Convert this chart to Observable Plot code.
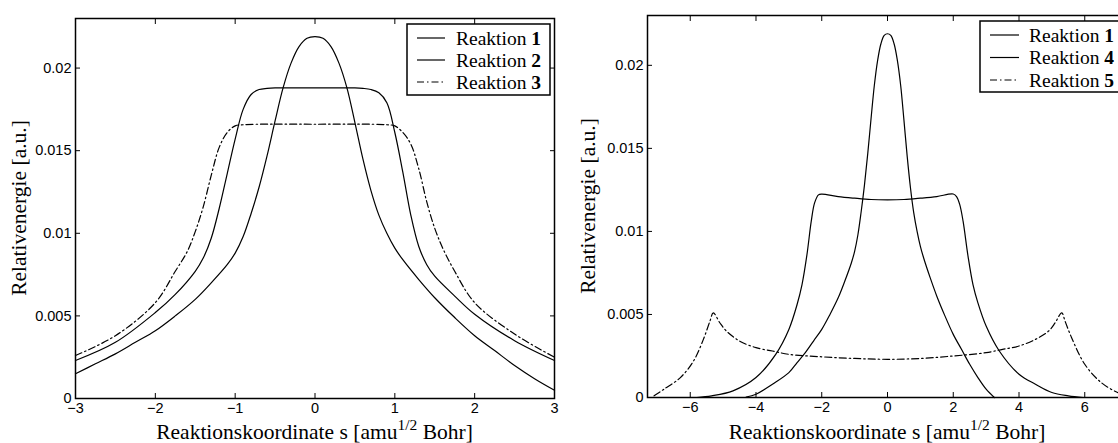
<!DOCTYPE html>
<html><head><meta charset="utf-8">
<script src="https://cdn.jsdelivr.net/npm/d3@7"></script>
<script src="https://cdn.jsdelivr.net/npm/@observablehq/plot@0.6"></script>
<style>
html,body{margin:0;padding:0;background:#fff;overflow:hidden;width:1118px;height:443px}
#wrap{position:relative;width:1118px;height:443px;overflow:hidden;background:#fff}
.panel{position:absolute;top:0}
</style></head><body><div id="wrap"></div>
<script>
// ---------- data ----------
const yTicks = [0, 0.005, 0.01, 0.015, 0.02];
const yTickLabels = ["0", "0.005", "0.01", "0.015", "0.02"];
const leftXTicks = [-3, -2, -1, 0, 1, 2, 3];
const rightXTicks = [-6, -4, -2, 0, 2, 4, 6];
const xTitle = ["Reaktionskoordinate s [amu", "1/2", " Bohr]"];
const yTitle = "Relativenergie [a.u.]";

// Reaktion 1 (left panel, s = -3..3)
const r1X = [-3,-2.75,-2.5,-2.25,-2,-1.75,-1.5,-1.3,-1.1,-1,-0.9,-0.8,-0.7,-0.6,-0.5,-0.4,-0.3,-0.2,-0.1,0,0.1,0.2,0.3,0.4,0.5,0.6,0.7,0.8,0.9,1,1.1,1.3,1.5,1.75,2,2.25,2.5,2.75,3];
const r1Y = [0.0015,0.0021,0.0027,0.0034,0.0041,0.0050,0.0060,0.0070,0.0081,0.0088,0.0098,0.0112,0.0128,0.0147,0.0168,0.0188,0.0203,0.0213,0.0218,0.0219,0.0218,0.0213,0.0203,0.0188,0.0167,0.0145,0.0126,0.0111,0.0100,0.0091,0.0084,0.0072,0.0061,0.0049,0.0038,0.0029,0.0020,0.0012,0.0005];
// Reaktion 1 tails (right panel extends the range)
const r1LeftTailX = [-4.3,-4,-3.5];
const r1LeftTailY = [0.00003,0.0002,0.0008];
const r1RightTailX = [3.25];
const r1RightTailY = [0.0];

// Reaktion 2
const r2X = [-3,-2.5,-2,-1.75,-1.5,-1.4,-1.3,-1.2,-1.1,-1.0,-0.9,-0.8,-0.7,-0.6,-0.5,0,0.5,0.6,0.7,0.8,0.9,1.0,1.1,1.2,1.3,1.4,1.5,1.75,2,2.5,3];
const r2Y = [0.0023,0.0034,0.0052,0.0063,0.0077,0.0085,0.0097,0.0115,0.0136,0.0157,0.0175,0.0184,0.0187,0.01877,0.0188,0.0188,0.0188,0.01877,0.0187,0.0185,0.0179,0.0161,0.0137,0.0111,0.0092,0.0081,0.0074,0.0062,0.0051,0.0035,0.0023];

// Reaktion 3
const r3X = [-3,-2.5,-2,-1.75,-1.6,-1.5,-1.4,-1.3,-1.2,-1.1,-1.0,-0.9,0,0.9,1.0,1.1,1.2,1.3,1.4,1.5,1.6,1.75,2,2.5,3];
const r3Y = [0.0026,0.0038,0.0058,0.0077,0.0089,0.0101,0.0116,0.0135,0.0152,0.0161,0.0165,0.01657,0.0166,0.01657,0.0165,0.0161,0.0154,0.0139,0.0119,0.0103,0.0091,0.0077,0.0058,0.0039,0.0025];

// Reaktion 4
const r4X = [-5.8,-5.35,-4.7,-4,-3.4,-3,-2.75,-2.6,-2.45,-2.32,-2.22,-2.1,-2,-1.5,-1,-0.5,0,0.5,1,1.5,2,2.1,2.2,2.3,2.45,2.6,2.75,3,3.4,4,4.5,5,5.5,5.95];
const r4Y = [0,0.0001,0.0004,0.0012,0.0026,0.0041,0.0056,0.0068,0.0086,0.0106,0.0117,0.0122,0.01225,0.0121,0.0120,0.01192,0.0119,0.01192,0.0120,0.0121,0.01225,0.0121,0.0116,0.0106,0.0085,0.0068,0.0057,0.0043,0.0028,0.0014,0.0008,0.0003,0.0001,0];

// Reaktion 5
const r5X = [-7.1,-6.8,-6.3,-5.9,-5.6,-5.4,-5.3,-5.1,-4.9,-4.5,-4,-3.5,-3,-2,-1,0,1,2,3,3.5,4,4.5,4.9,5.1,5.3,5.4,5.6,6,6.5,7,7.3];
const r5Y = [0.0001,0.0005,0.0012,0.0022,0.0035,0.0046,0.0051,0.0045,0.0040,0.0034,0.0030,0.0028,0.0026,0.00245,0.00235,0.0023,0.00235,0.0025,0.0027,0.0029,0.0031,0.0035,0.0040,0.0045,0.0051,0.0046,0.0036,0.0020,0.0009,0.0003,0.0001];

const leftNames = ["1", "2", "3"];
const rightNames = ["1", "4", "5"];
// ----------------------------------------------------

const zip = (xs, ys) => xs.map((x, i) => ({x, y: ys[i]}));
const r1Full = zip([...r1LeftTailX, ...r1X, ...r1RightTailX], [...r1LeftTailY, ...r1Y, ...r1RightTailY]);

const SANS = "'Liberation Sans', Arial, Helvetica, sans-serif";
const SERIF = "'Liberation Serif', 'Times New Roman', serif";
const DASHDOT = "7,3,1.5,3";
const TITLE_SIZE = 21.5;
const LEGEND_SIZE = 19.5;
const TICK_SIZE = 14.5;

function makePanel(cfg) {
  const lineMarks = cfg.series.map(s => Plot.line(s.data, {
    x: "x", y: "y", stroke: "black", strokeWidth: 1.2, curve: "catmull-rom",
    strokeDasharray: s.dash ? DASHDOT : null
  }));
  const common = {fontFamily: SANS, fontSize: TICK_SIZE, label: null};
  const plot = Plot.plot({
    width: cfg.width, height: 443,
    marginLeft: cfg.ml, marginRight: cfg.mr, marginTop: cfg.mt, marginBottom: cfg.mb,
    style: {background: "transparent", fontFamily: SANS, fontSize: TICK_SIZE + "px", color: "black"},
    x: {domain: cfg.xDomain},
    y: {domain: [0, 0.023]},
    marks: [
      ...lineMarks,
      Plot.axisX(cfg.xTicks, {...common, anchor: "bottom", tickSize: 0, tickPadding: 4}),
      Plot.axisX(cfg.xTicks, {...common, anchor: "bottom", tickSize: -5, tickFormat: () => ""}),
      Plot.axisX(cfg.xTicks, {...common, anchor: "top", tickSize: -5, tickFormat: () => ""}),
      Plot.axisY(yTicks, {...common, anchor: "left", tickSize: 0, tickPadding: 4, tickFormat: (d) => yTickLabels[yTicks.indexOf(d)]}),
      Plot.axisY(yTicks, {...common, anchor: "left", tickSize: -5, tickFormat: () => ""}),
      Plot.axisY(yTicks, {...common, anchor: "right", tickSize: -5, tickFormat: () => ""}),
      Plot.frame({stroke: "black", strokeWidth: 1.5})
    ]
  });
  const svg = d3.select(plot);
  svg.attr("overflow", "visible");
  const cx = cfg.ml + (cfg.width - cfg.ml - cfg.mr) / 2;
  const t = svg.append("text").attr("x", cx).attr("y", 439).attr("text-anchor", "middle")
    .attr("font-family", SERIF).attr("font-size", TITLE_SIZE).attr("fill", "black");
  t.append("tspan").text(xTitle[0]);
  t.append("tspan").attr("dy", -9).attr("font-size", 15.5).text(xTitle[1]);
  t.append("tspan").attr("dy", 9).text(xTitle[2]);
  const cy = cfg.mt + (443 - cfg.mt - cfg.mb) / 2;
  svg.append("text").attr("transform", `translate(${cfg.yTitleX},${cy}) rotate(-90)`)
    .attr("text-anchor", "middle").attr("font-family", SERIF).attr("font-size", TITLE_SIZE)
    .attr("fill", "black").text(yTitle);
  // legend
  const L = cfg.legend;
  const g = svg.append("g");
  g.append("rect").attr("x", L.x).attr("y", L.y).attr("width", L.w).attr("height", L.h)
    .attr("fill", "white").attr("stroke", "black").attr("stroke-width", 1.5);
  cfg.series.forEach((s, i) => {
    const yy = L.y + L.first + i * L.step;
    g.append("line").attr("x1", L.x + L.l1).attr("x2", L.x + L.l2).attr("y1", yy).attr("y2", yy)
      .attr("stroke", "black").attr("stroke-width", 1.2).attr("stroke-dasharray", s.dash ? DASHDOT : null);
    const tx = g.append("text").attr("x", L.x + L.tx).attr("y", yy + 6.5).attr("font-family", SERIF)
      .attr("text-anchor", "start").attr("font-size", LEGEND_SIZE).attr("fill", "black");
    tx.append("tspan").text("Reaktion ");
    tx.append("tspan").attr("font-weight", "bold").text(s.name);
  });
  plot.classList.add("panel");
  plot.style.left = cfg.left + "px";
  document.getElementById("wrap").appendChild(plot);
}

makePanel({
  left: 0, width: 560, ml: 75, mr: 6, mt: 18, mb: 45,
  xDomain: [-3, 3], xTicks: leftXTicks, yTitleX: 26,
  series: [
    {name: leftNames[0], data: zip(r1X, r1Y)},
    {name: leftNames[1], data: zip(r2X, r2Y)},
    {name: leftNames[2], data: zip(r3X, r3Y), dash: true}
  ],
  legend: {x: 407, y: 24, w: 143, h: 71, first: 14, step: 22, l1: 10, l2: 38, tx: 49}
});

makePanel({
  left: 560, width: 580, ml: 87, mr: 13, mt: 15, mb: 46,
  xDomain: [-7.3, 7.3], xTicks: rightXTicks, yTitleX: 35,
  series: [
    {name: rightNames[0], data: r1Full},
    {name: rightNames[1], data: zip(r4X, r4Y)},
    {name: rightNames[2], data: zip(r5X, r5Y), dash: true}
  ],
  legend: {x: 420, y: 21, w: 143, h: 71, first: 14, step: 22.5, l1: 10, l2: 39, tx: 49}
});
</script></body></html>
